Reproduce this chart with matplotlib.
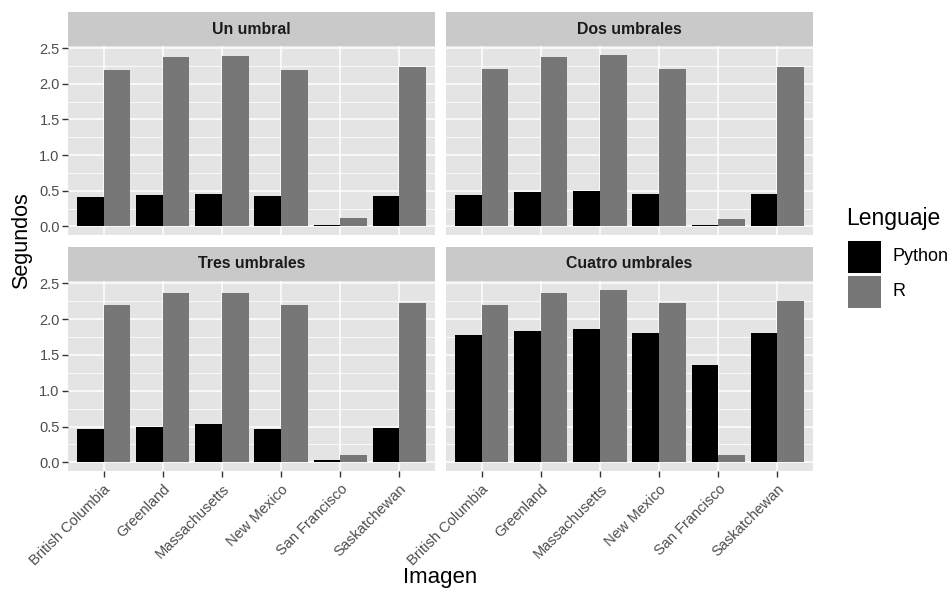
import numpy as np
import matplotlib
matplotlib.use("Agg")
import matplotlib.pyplot as plt
from matplotlib.patches import Rectangle

plt.rcParams['font.family'] = ['Liberation Sans', 'DejaVu Sans']

# Data
images = ["British Columbia", "Greenland", "Massachusetts", "New Mexico",
          "San Francisco", "Saskatchewan"]
panels = ["Un umbral", "Dos umbrales", "Tres umbrales", "Cuatro umbrales"]
python_times = [
    [0.41, 0.445, 0.45, 0.42, 0.02, 0.42],
    [0.445, 0.48, 0.49, 0.455, 0.02, 0.46],
    [0.464, 0.496, 0.53, 0.468, 0.037, 0.478],
    [1.78, 1.837, 1.855, 1.81, 1.354, 1.81],
]
r_times = [
    [2.20, 2.375, 2.39, 2.20, 0.12, 2.23],
    [2.21, 2.38, 2.40, 2.21, 0.107, 2.235],
    [2.19, 2.37, 2.37, 2.20, 0.10, 2.23],
    [2.20, 2.37, 2.41, 2.22, 0.097, 2.25],
]
y_ticks = [0.0, 0.5, 1.0, 1.5, 2.0, 2.5]

PY_COL = "#000000"
R_COL = "#777777"
PANEL_BG = "#E4E4E4"
STRIP_BG = "#C9C9C9"

W, H = 952, 593
fig = plt.figure(figsize=(W / 100, H / 100), dpi=100)

def px_axes(x0, y0, x1, y1):
    return fig.add_axes([x0 / W, 1 - y1 / H, (x1 - x0) / W, (y1 - y0) / H])

col_x = [(68, 435), (446, 813)]
row_y = [(12, 46, 235), (247, 281, 471)]

ymax = max(max(max(p) for p in python_times), max(max(r) for r in r_times))
pad = ymax * 0.05
x = np.arange(len(images))
bw = 0.45

for i, title in enumerate(panels):
    r, c = divmod(i, 2)
    x0, x1 = col_x[c]
    s0, s1, p1 = row_y[r]

    strip = px_axes(x0, s0, x1, s1)
    strip.set_facecolor(STRIP_BG)
    strip.set_xticks([]); strip.set_yticks([])
    for sp in strip.spines.values():
        sp.set_visible(False)
    strip.text(0.5, 0.5, title, ha='center', va='center', fontsize=11.4,
               fontweight='bold', color='#1A1A1A', transform=strip.transAxes)

    ax = px_axes(x0, s1, x1, p1)
    ax.set_facecolor(PANEL_BG)
    for sp in ax.spines.values():
        sp.set_visible(False)
    ax.set_axisbelow(True)
    ax.set_xlim(-0.6, len(images) - 0.4)
    ax.set_ylim(-pad, ymax + pad)
    ax.set_yticks(y_ticks)
    ax.set_yticks([0.25, 0.75, 1.25, 1.75, 2.25], minor=True)
    ax.set_xticks(x)
    ax.grid(which='major', color='white', linewidth=1.1)
    ax.grid(which='minor', axis='y', color='white', linewidth=0.55)
    ax.tick_params(which='minor', length=0)

    ax.bar(x - bw / 2, python_times[i], width=bw, color=PY_COL)
    ax.bar(x + bw / 2, r_times[i], width=bw, color=R_COL)

    if c == 0:
        ax.set_yticklabels([f"{t:.1f}" for t in y_ticks], fontsize=10.5, color='#4D4D4D')
        ax.tick_params(axis='y', length=4, width=1, color='#333333', pad=2)
    else:
        ax.tick_params(axis='y', length=0, labelleft=False)
    if r == 1:
        ax.set_xticklabels(images, rotation=45, ha='right', va='top',
                           rotation_mode='anchor', fontsize=10.5, color='#4D4D4D')
        ax.tick_params(axis='x', length=4, width=1, color='#333333', pad=4)
    else:
        ax.tick_params(axis='x', length=0, labelbottom=False)

fig.text(22 / W, 1 - 241 / H, "Segundos", rotation=90, ha='center', va='center',
         fontsize=15.5)
fig.text(440 / W, 1 - 577 / H, "Imagen", ha='center', va='center', fontsize=16)

# Legend
fig.text(846 / W, 1 - 218 / H, "Lenguaje", ha='left', va='center', fontsize=16.5)
for k, (lab, col) in enumerate([("Python", PY_COL), ("R", R_COL)]):
    top = 241 + k * 35
    fig.patches.append(Rectangle((848 / W, 1 - (top + 32) / H), 33 / W, 32 / H,
                                 transform=fig.transFigure, facecolor=col,
                                 edgecolor='none'))
    fig.text(893 / W, 1 - (top + 16) / H, lab, ha='left', va='center', fontsize=13)

fig.savefig("out.png", dpi=100, facecolor='white')
